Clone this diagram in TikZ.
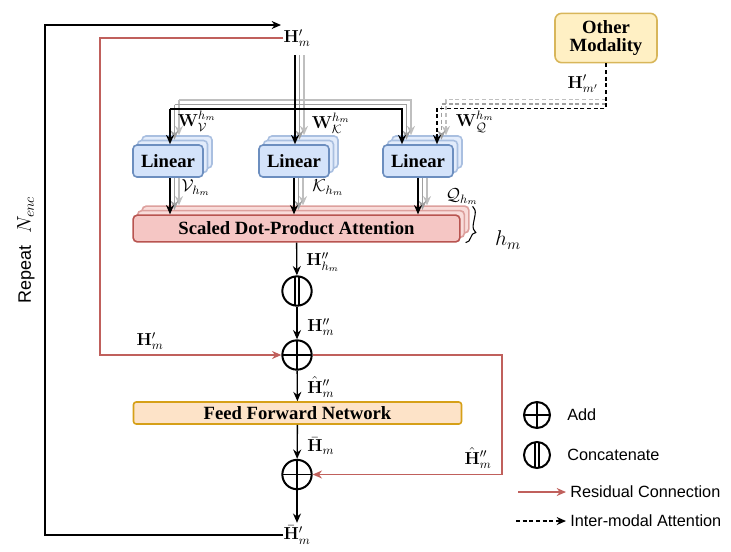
\RequirePackage{fix-cm}
\documentclass[tikz,border=0pt]{standalone}
\usepackage[no-math]{fontspec}
\setmainfont{Liberation Serif}
\newfontfamily\arialf{Liberation Sans}
\usepackage{amsmath}
\usetikzlibrary{arrows.meta,decorations.pathreplacing,calc}
\definecolor{linF}{HTML}{D4E3FA}
\definecolor{linD}{HTML}{6C8EBF}
\definecolor{linFb}{HTML}{E3ECFB}
\definecolor{linDb}{HTML}{A9BFE0}
\definecolor{sdF}{HTML}{F5C6C4}
\definecolor{sdD}{HTML}{B85450}
\definecolor{sdFb}{HTML}{F9DCDA}
\definecolor{sdDb}{HTML}{DDA09D}
\definecolor{ffF}{HTML}{FDE3C8}
\definecolor{ffD}{HTML}{D6A018}
\definecolor{omF}{HTML}{FFF0C4}
\definecolor{omD}{HTML}{D8B65A}
\definecolor{resC}{HTML}{C0605C}
\begin{document}
\begin{tikzpicture}[x=0.75pt,y=-0.75pt,
  >={Stealth[length=7pt,width=6pt]},
  every node/.style={inner sep=0pt},
  arr/.style={->, line width=1pt, draw=black},
  arrga/.style={->, line width=0.9pt, draw=gray!75},
  arrgb/.style={->, line width=0.9pt, draw=gray!50},
  res/.style={->, line width=1pt, draw=resC},
  dsh/.style={->, line width=1pt, dash pattern=on 3pt off 2pt},
  dsha/.style={->, line width=0.9pt, draw=gray!75, dash pattern=on 3pt off 2pt},
  dshb/.style={->, line width=0.9pt, draw=gray!50, dash pattern=on 3pt off 2pt},
  bx/.style={font=\bfseries\fontsize{14}{16}\selectfont, line width=1.2pt},
  linbox/.style={bx, draw=linD, fill=linF, rounded corners=3pt, minimum width=52.5pt, minimum height=24pt},
  linback/.style={linbox, draw=linDb, fill=linFb},
  sdbox/.style={bx, draw=sdD, fill=sdF, rounded corners=3pt, minimum width=245pt, minimum height=20pt},
  sdback/.style={sdbox, draw=sdDb, fill=sdFb},
  ffbox/.style={bx, draw=ffD, fill=ffF, rounded corners=2pt, minimum width=246pt, minimum height=16.5pt},
  ombox/.style={bx, draw=omD, fill=omF, rounded corners=5pt, minimum width=76.5pt, minimum height=37pt, align=center},
  lbl/.style={font=\fontsize{13}{15}\selectfont},
  lgd/.style={font=\arialf\fontsize{12.2}{14}\selectfont, anchor=west},
  addc/.style={circle, draw, line width=1.5pt, minimum size=22pt,
    path picture={\draw[line width=1.2pt] (path picture bounding box.north) -- (path picture bounding box.south)
      (path picture bounding box.west) -- (path picture bounding box.east);}},
  catc/.style={circle, draw, line width=1.5pt, minimum size=22pt,
    path picture={\draw[line width=1pt] ([xshift=-1.6pt]path picture bounding box.north) -- ([xshift=-1.6pt]path picture bounding box.south)
      ([xshift=1.6pt]path picture bounding box.north) -- ([xshift=1.6pt]path picture bounding box.south);}}
]
\useasboundingbox (0,0) rectangle (731,551);

% ---------- back copies ----------
\node[linback] (linV3) at (177,152) {};
\node[linback] (linV2) at (172.5,156.5) {};
\node[linback] (linK3) at (303,152) {};
\node[linback] (linK2) at (298.5,156.5) {};
\node[linback] (linQ3) at (427,152) {};
\node[linback] (linQ2) at (422.5,156.5) {};
\node[sdback] (sd3) at (305.5,219.5) {};
\node[sdback] (sd2) at (301,224) {};

% ---------- top nodes ----------
\node[lbl] (htop) at (297,38) {$\mathbf{H}'_m$};
\node[ombox] (om) at (606,38) {Other\\[-2pt]Modality};
\node[lbl] (hmp) at (583,84) {$\mathbf{H}'_{m'}$};

% ---------- gray input lines ----------
\coordinate (s1) at (299.5,55);
\coordinate (s2) at (304,55);
\coordinate (b1L) at (174.5,104.5);
\coordinate (b1R) at (406.5,104.5);
\coordinate (b2L) at (179,100);
\coordinate (b2R) at (411,100);
\draw[arrgb] (s2) -- (s2 |- linK3.north);
\draw[arrgb] (b2L) -- (b2L |- linV3.north);
\draw[arrgb] (b2L) -- (b2R) -- (b2R |- linQ3.north);
\draw[arrga] (s1) -- (s1 |- linK2.north);
\draw[arrga] (b1L) -- (b1L |- linV2.north);
\draw[arrga] (b1L) -- (b1R) -- (b1R |- linQ2.north);
% gray dashed
\coordinate (d1) at (441.5,104);
\coordinate (d2) at (446,99.5);
\coordinate (o1) at (606,104);
\coordinate (o2) at (606,99.5);
\draw[dshb] (o2) -- (d2) -- (d2 |- linQ3.north);
\draw[dsha] (o1) -- (d1) -- (d1 |- linQ2.north);
% gray lines linear -> sdpa
\draw[arrgb] ([xshift=1.5pt]linV3.south) -- ([xshift=1.5pt]linV3.south |- sd3.north);
\draw[arrga] ([xshift=1.5pt]linV2.south) -- ([xshift=1.5pt]linV2.south |- sd2.north);
\draw[arrgb] (linK3.south) -- (linK3.south |- sd3.north);
\draw[arrga] (linK2.south) -- (linK2.south |- sd2.north);
\draw[arrgb] (linQ3.south) -- (linQ3.south |- sd3.north);
\draw[arrga] (linQ2.south) -- (linQ2.south |- sd2.north);

% ---------- front boxes ----------
\node[linbox] (linV) at (168,161) {Linear};
\node[linbox] (linK) at (294,161) {Linear};
\node[linbox] (linQ) at (418,161) {Linear};
\node[sdbox] (sd) at (296.5,228.5) {Scaled Dot-Product Attention};

% ---------- black input lines ----------
\coordinate (s0) at (295,55);
\coordinate (b0L) at (170,109);
\coordinate (b0R) at (402,109);
\draw[arr] (s0) -- (s0 |- linK.north);
\draw[arr] (b0L) -- (b0L |- linV.north);
\draw[arr] (b0L) -- (b0R) -- (b0R |- linQ.north);
\coordinate (d0) at (437,108.5);
\draw[dsh] (om.south) |- (d0) -- (d0 |- linQ.north);

\node[lbl] (wv) at (197,121) {$\mathbf{W}^{h_m}_{\mathcal{V}}$};
\node[lbl] (wk) at (331,123) {$\mathbf{W}^{h_m}_{\mathcal{K}}$};
\node[lbl] (wq) at (475,122) {$\mathbf{W}^{h_m}_{\mathcal{Q}}$};

% ---------- linear -> sdpa black ----------
\draw[arr] ([xshift=1.5pt]linV.south) -- ([xshift=1.5pt]linV.south |- sd.north);
\draw[arr] (linK.south) -- (linK.south |- sd.north);
\draw[arr] (linQ.south) -- (linQ.south |- sd.north);
\node[lbl] (vh) at (196,188) {$\mathcal{V}_{h_m}$};
\node[lbl] (kh) at (328,188) {$\mathcal{K}_{h_m}$};
\node[lbl] (qh) at (462,197) {$\mathcal{Q}_{h_m}$};

% brace
\draw[line width=0.8pt, decorate, decoration={brace, amplitude=6pt, aspect=0.68}]
  ($(sd3.north east)+(3,1)$) -- ($(sd.south east)+(5,0)$);
\node[font=\fontsize{16}{18}\selectfont] (hm) at (508,240) {$h_m$};

% ---------- lower column ----------
\node[catc] (cat) at (297,291) {};
\node[addc] (add1) at (297,355) {};
\node[ffbox] (ffn) at (297.5,413) {Feed Forward Network};
\node[addc] (add2) at (297,474.5) {};
\node[lbl] (hbot) at (297,535) {$\bar{\mathbf{H}}'_m$};

\draw[arr] (sd) -- (cat);
\draw[arr] (cat) -- (add1);
\draw[arr] (add1) -- (ffn);
\draw[arr] (ffn) -- (add2);
\draw[arr] (add2) -- ([yshift=2pt]hbot.north);

\node[lbl, anchor=west] (l1) at (306,262) {$\mathbf{H}''_{h_m}$};
\node[lbl, anchor=west] (l2) at (307,327) {$\mathbf{H}''_m$};
\node[lbl, anchor=west] (l3) at (307,387) {$\hat{\mathbf{H}}''_m$};
\node[lbl, anchor=west] (l4) at (307,446) {$\bar{\mathbf{H}}_m$};
\node[lbl] (l5) at (478,458) {$\hat{\mathbf{H}}''_m$};
\node[lbl] (l6) at (150,341) {$\mathbf{H}'_m$};

% ---------- loop & residuals ----------
\coordinate (lt) at (281,25);
\draw[arr] (hbot.west) -| (45,25) -- (lt);
\coordinate (rl) at (100,355);
\draw[res] (htop.west) -| (rl) -- (add1);
\coordinate (rr) at (502,474.5);
\draw[res] (add1) -| (rr) -- (add2);

\node[rotate=90, font=\arialf\fontsize{13.5}{16}\selectfont] (rep) at (26,250)
  {Repeat\hspace{9pt}{\fontsize{15}{17}\selectfont$N_{enc}$}};

% ---------- legend ----------
\node[addc, minimum size=19.5pt] (ladd) at (537,415) {};
\node[lgd] (tadd) at (567,415) {Add};
\node[catc, minimum size=19.5pt] (lcat) at (537,455) {};
\node[lgd] (tcat) at (567,455) {Concatenate};
\node[lgd] (tres) at (570,492) {Residual Connection};
\node[lgd] (tint) at (570,521) {Inter-modal Attention};
\coordinate (r1) at (518,492);
\coordinate (r2) at (516,521);
\draw[res] (r1) -- ([xshift=-3pt]tres.west);
\draw[dsh] (r2) -- ([xshift=-3pt]tint.west);
\end{tikzpicture}
\end{document}
